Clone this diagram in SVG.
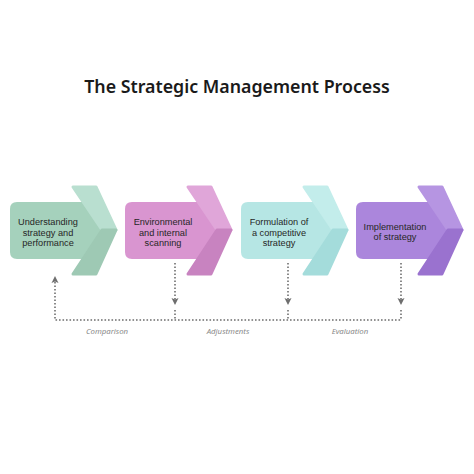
<svg xmlns="http://www.w3.org/2000/svg" width="474" height="474" viewBox="0 0 474 474">
  <defs>
    <style>
      .title { font-family: "Noto Sans", "Open Sans", sans-serif; font-size: 17.8px; font-weight: 600; fill: #1a1a1a; }
      .lbl { font-family: "Liberation Sans", Arial, sans-serif; font-size: 9.2px; font-weight: normal; fill: #262626; text-anchor: middle; }
      .cap { font-family: "Noto Sans", "Open Sans", sans-serif; font-size: 7.8px; font-style: italic; fill: #8a8a8a; text-anchor: middle; }
      .dot { fill: none; stroke: #6e6e6e; stroke-width: 1.6; stroke-dasharray: 1.6 1.9; }
      .head { fill: #6e6e6e; }
      .chv { stroke-linejoin: round; stroke-width: 3; }
    </style>
  </defs>
  <rect width="474" height="474" fill="#ffffff"/>
  <text class="title" x="237" y="93" text-anchor="middle">The Strategic Management Process</text>

  <g id="node-understanding">
    <path d="M17,202 H86 L104,230 L86,259 H17 Q10,259 10,252 V209 Q10,202 17,202 Z" fill="#a5d1bc"/>
    <polygon class="chv" points="73,187 96,187 116,230 102,230" fill="#b9dfd0" stroke="#b9dfd0"/>
    <polygon class="chv" points="102,230 116,230 96,274 73,274" fill="#9ec9b4" stroke="#9ec9b4"/>
    <text class="lbl" x="48" y="225.3">Understanding</text>
    <text class="lbl" x="48" y="235.6">strategy and</text>
    <text class="lbl" x="48" y="245.9">performance</text>
  </g>

  <g id="node-environmental">
    <path d="M132,202 H201 L219,230 L201,259 H132 Q125,259 125,252 V209 Q125,202 132,202 Z" fill="#d995d0"/>
    <polygon class="chv" points="188,187 211,187 231,230 217,230" fill="#e0a6d9" stroke="#e0a6d9"/>
    <polygon class="chv" points="217,230 231,230 211,274 188,274" fill="#c883c0" stroke="#c883c0"/>
    <text class="lbl" x="163" y="225.3">Environmental</text>
    <text class="lbl" x="163" y="235.6">and internal</text>
    <text class="lbl" x="163" y="245.9">scanning</text>
  </g>

  <g id="node-formulation">
    <path d="M248,202 H317 L335,230 L317,259 H248 Q241,259 241,252 V209 Q241,202 248,202 Z" fill="#b6e6e4"/>
    <polygon class="chv" points="304,187 327,187 347,230 333,230" fill="#c3edeb" stroke="#c3edeb"/>
    <polygon class="chv" points="333,230 347,230 327,274 304,274" fill="#a4dcdb" stroke="#a4dcdb"/>
    <text class="lbl" x="279" y="225.3">Formulation of</text>
    <text class="lbl" x="279" y="235.6">a competitive</text>
    <text class="lbl" x="279" y="245.9">strategy</text>
  </g>

  <g id="node-implementation">
    <path d="M363,202 H432 L450,230 L432,259 H363 Q356,259 356,252 V209 Q356,202 363,202 Z" fill="#ab86dc"/>
    <polygon class="chv" points="419,187 442,187 462,230 448,230" fill="#b695e2" stroke="#b695e2"/>
    <polygon class="chv" points="448,230 462,230 442,274 419,274" fill="#9a72cf" stroke="#9a72cf"/>
    <text class="lbl" x="395" y="229.5">Implementation</text>
    <text class="lbl" x="395" y="239.8">of strategy</text>
  </g>

  <g id="connectors">
    <path class="dot" d="M55,282 V320 H401"/>
    <path class="head" d="M55,276 L58.5,283 L55,281.5 L51.5,283 Z"/>
    <path class="dot" d="M175,263 V301 M175,310 V320"/>
    <path class="head" d="M175,305 L178.5,298 L175,299.5 L171.5,298 Z"/>
    <path class="dot" d="M288,263 V301 M288,310 V320"/>
    <path class="head" d="M288,305 L291.5,298 L288,299.5 L284.5,298 Z"/>
    <path class="dot" d="M401,263 V301 M401,310 V320"/>
    <path class="head" d="M401,305 L404.5,298 L401,299.5 L397.5,298 Z"/>
  </g>

  <g id="labels">
    <text class="cap" x="107" y="333.5">Comparison</text>
    <text class="cap" x="228" y="333.5">Adjustments</text>
    <text class="cap" x="350" y="333.5">Evaluation</text>
  </g>
</svg>
